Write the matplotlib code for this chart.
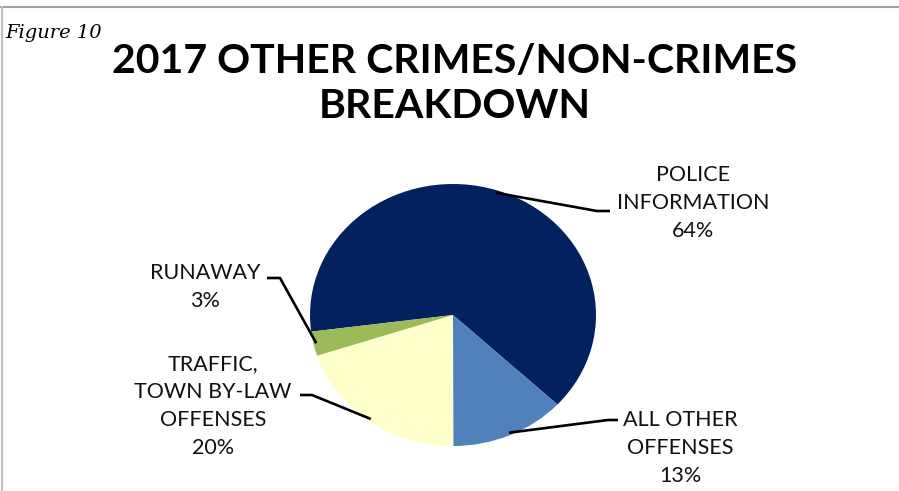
import numpy as np
import matplotlib
matplotlib.use("Agg")
import matplotlib.pyplot as plt
from matplotlib.lines import Line2D

# Other crimes / non-crimes, 2017 share of calls
categories = ['POLICE\nINFORMATION', 'ALL OTHER\nOFFENSES',
              'TRAFFIC,\nTOWN BY-LAW\nOFFENSES', 'RUNAWAY']
shares = [64, 13, 20, 3]
colors = ['#03215E', '#4F81BD', '#FFFFCC', '#9BBB59']

W, H = 899, 491
fig = plt.figure(figsize=(W / 100, H / 100), dpi=100)

# pie centre and radii in pixels (slightly wider than tall)
cx, cy = 453, 315
rx, ry = 143, 131
lim = 1.25
ax = fig.add_axes([(cx - lim * rx) / W, (H - cy - lim * ry) / H,
                   2 * lim * rx / W, 2 * lim * ry / H])
wedges, _ = ax.pie(shares, colors=colors, startangle=187.3, counterclock=False,
                   wedgeprops=dict(linewidth=0))
ax.set_aspect('auto')
ax.set_xlim(-lim, lim)
ax.set_ylim(-lim, lim)
ax.axis('off')


def px(x, y):
    return (x - cx) / rx, (cy - y) / ry


# label centre (px) and leader elbow / end (px)
label_pos = [(693, 203), (680, 448), (213, 406), (205, 287)]
elbows = [((597, 211), (610, 211)), ((608, 420), (618, 420)),
          ((312, 395), (300, 395)), ((280, 278), (267, 278))]

for w, name, val, (lx, ly), (e1, e2) in zip(wedges, categories, shares, label_pos, elbows):
    mid = np.deg2rad((w.theta1 + w.theta2) / 2)
    sx, sy = 0.98 * np.cos(mid), 0.98 * np.sin(mid)
    ex1, ey1 = px(*e1)
    ex2, ey2 = px(*e2)
    ax.add_line(Line2D([sx, ex1, ex2], [sy, ey1, ey2], color='black', lw=1.9,
                       clip_on=False, solid_capstyle='butt'))
    tx, ty = px(lx, ly)
    ax.text(tx, ty, f'{name}\n{val}%', ha='center', va='center', multialignment='center',
            fontsize=15.5, family='Lato', color='#111111', linespacing=1.5)

fig.text(455 / W, 1 - 84 / H, '2017 OTHER CRIMES/NON-CRIMES\nBREAKDOWN', ha='center', va='center',
         fontsize=29.5, fontweight='bold', family='Lato', linespacing=1.26)
fig.text(5 / W, 1 - 38 / H, 'Figure 10', ha='left', va='baseline', fontsize=14,
         style='italic', family='DejaVu Serif')

# frame lines along top and left edge
fig.add_artist(Line2D([0, 1], [1 - 6.5 / H, 1 - 6.5 / H], transform=fig.transFigure,
                      color='#A0A0A0', lw=1.5))
fig.add_artist(Line2D([1.5 / W, 1.5 / W], [0, 1 - 6.5 / H], transform=fig.transFigure,
                      color='#C0C0C0', lw=1.5))

fig.savefig('out.png', dpi=100)
